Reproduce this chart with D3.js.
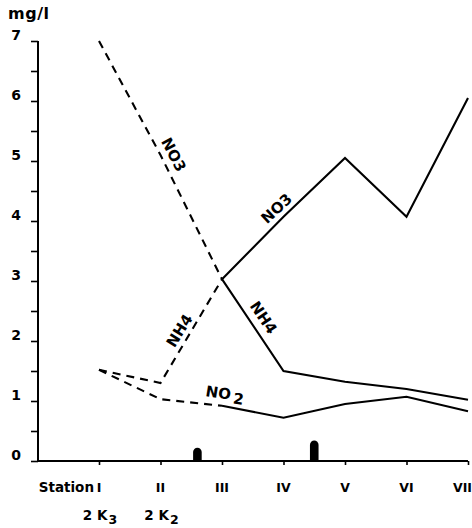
<!DOCTYPE html>
<html><head><meta charset="utf-8">
<script src="https://cdn.jsdelivr.net/npm/d3@7/dist/d3.min.js"></script>
<style>
html,body{margin:0;padding:0;background:#fff;}
svg{display:block;}
text{font-family:"DejaVu Sans",sans-serif;font-weight:bold;fill:#000;}
</style></head>
<body>
<svg id="chart" width="472" height="528"></svg>
<script>
// ---- data ----
const stations = ["I", "II", "III", "IV", "V", "VI", "VII"];
const subLabels = [{ idx: 0, main: "2 K", sub: "3" }, { idx: 1, main: "2 K", sub: "2" }];
const yTicks = [0, 1, 2, 3, 4, 5, 6, 7];
const yMinorTicks = [0.5, 1.5, 2.5, 3.5, 4.5, 5.5, 6.5];

// dashed parts start at station I, solid parts start at station III
const no3Dashed = [7.0, 5.1, 3.03];
const no3Solid = [3.03, 4.07, 5.05, 4.07, 6.05];
const nh4Dashed = [1.52, 1.3, 3.03];
const nh4Solid = [3.03, 1.5, 1.32, 1.2, 1.02];
const no2Dashed = [1.52, 1.03, 0.92];
const no2Solid = [0.92, 0.72, 0.95, 1.07, 0.83];

// inflow markers on the axis (station position, height in mg/l units)
const inflowPos = [1.6, 3.5];
const inflowHeight = [0.22, 0.34];

// ---- scales ----
const svg = d3.select("#chart");
const x = d3.scaleLinear().domain([0, 6]).range([99, 468]);
const y = d3.scaleLinear().domain([0, 7]).range([461, 41]);

// ---- axes ----
const yAxis = d3.axisLeft(y).tickValues(yTicks.concat(yMinorTicks)).tickSize(7).tickFormat("");
const gy = svg.append("g").attr("transform", `translate(${x.range()[0] - 61},0)`).call(yAxis);
gy.select(".domain").attr("d", `M0,${y(7)}V${y(0)}`).attr("stroke", "#000").attr("stroke-width", 2);
gy.selectAll(".tick line").attr("stroke", "#000").attr("stroke-width", 1.6);

svg.append("g").selectAll("text").data(yTicks).join("text")
  .attr("x", 16).attr("y", d => y(d) - 1)
  .attr("text-anchor", "middle").attr("font-size", 14).text(d => d);

const xAxis = d3.axisBottom(x).tickValues(d3.range(stations.length)).tickSize(4).tickFormat("");
const gx = svg.append("g").attr("transform", `translate(0,${y(0)})`).call(xAxis);
gx.select(".domain").attr("d", `M38,0H${x(6)}`).attr("stroke", "#000").attr("stroke-width", 2);
gx.selectAll(".tick line").attr("stroke", "#000").attr("stroke-width", 1.6);

svg.append("g").selectAll("text").data(stations).join("text")
  .attr("x", (d, i) => i === stations.length - 1 ? 472 : x(i)).attr("y", 492)
  .attr("text-anchor", (d, i) => i === stations.length - 1 ? "end" : "middle")
  .attr("font-family", "'DejaVu Serif Condensed','DejaVu Serif',serif")
  .attr("font-size", 12.5).text(d => d);
svg.append("text").attr("x", x(0) - 5).attr("y", 492).attr("text-anchor", "end")
  .attr("font-size", 13.5).text("Station");

const sl = svg.append("g").selectAll("text").data(subLabels).join("text")
  .attr("x", d => x(d.idx) + 1).attr("y", 520).attr("text-anchor", "middle").attr("font-size", 13.5);
sl.append("tspan").text(d => d.main);
sl.append("tspan").attr("dy", 4).attr("dx", 1).attr("font-size", 12.5).text(d => d.sub);

svg.append("text").attr("x", 8).attr("y", 19).attr("font-size", 16).attr("letter-spacing", 0.5).text("mg/l");

// ---- lines ----
const lineGen = (offset) => d3.line().x((d, i) => x(i + offset)).y(d => y(d));
function drawLine(data, offset, dashed) {
  svg.append("path").datum(data)
    .attr("d", lineGen(offset))
    .attr("fill", "none").attr("stroke", "#000").attr("stroke-width", 2.1)
    .attr("stroke-linejoin", "miter")
    .attr("stroke-dasharray", dashed ? "8,6" : null);
}
drawLine(no3Dashed, 0, true);
drawLine(nh4Dashed, 0, true);
drawLine(no2Dashed, 0, true);
drawLine(no3Solid, 2, false);
drawLine(nh4Solid, 2, false);
drawLine(no2Solid, 2, false);

// ---- inflow markers ----
svg.append("g").selectAll("path").data(inflowPos).join("path")
  .attr("d", (d, i) => {
    const cx = x(d), top = y(inflowHeight[i]), bot = y(0), r = 4.3;
    return `M${cx - r},${bot}V${top + r}A${r},${r} 0 0 1 ${cx + r},${top + r}V${bot}Z`;
  })
  .attr("fill", "#000");

// ---- line labels ----
function label(txt, px, py, angle, size) {
  return svg.append("text").attr("transform", `translate(${px},${py}) rotate(${angle})`)
    .attr("text-anchor", "middle").attr("dominant-baseline", "middle")
    .attr("font-size", size || 15).text(txt);
}
label("NO3", 173, 155, 62);
label("NO3", 277, 209, -43);
label("NH4", 180, 331, -58);
label("NH4", 263, 318, 56);
const n2 = svg.append("text").attr("transform", "translate(225,394) rotate(9)")
  .attr("text-anchor", "middle").attr("dominant-baseline", "middle").attr("font-size", 15);
n2.append("tspan").text("NO");
n2.append("tspan").attr("dx", 3).attr("dy", 3).text("2");
</script>
</body></html>
